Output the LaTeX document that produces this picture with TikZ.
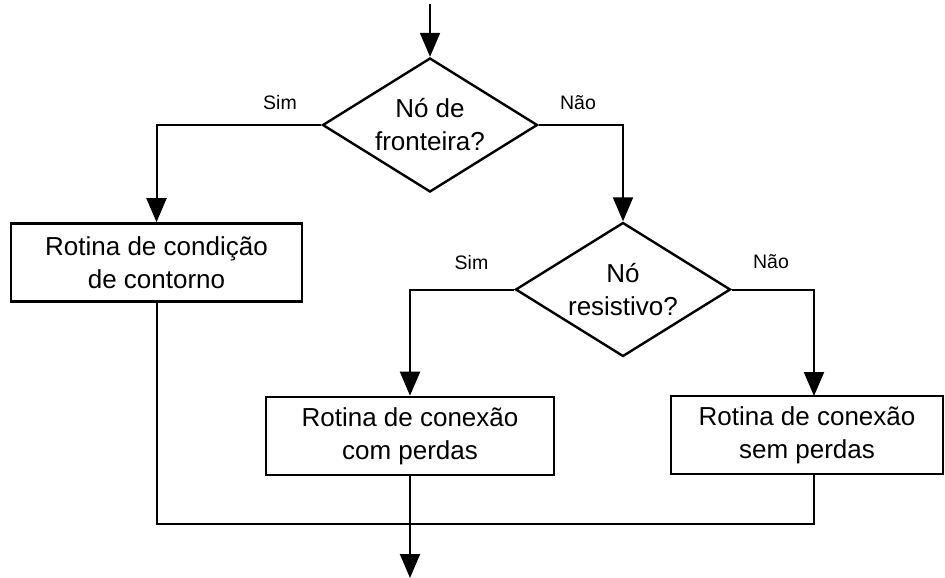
\documentclass[tikz,border=0pt]{standalone}
\usepackage{fontspec}
\setmainfont{Liberation Sans}
\usetikzlibrary{shapes.geometric,arrows.meta,calc}
\begin{document}
\begin{tikzpicture}[x=1pt,y=-1pt,
  conn/.style={line width=2pt},
  arr/.style={conn,-{Triangle[length=24pt,width=20pt]}},
  decision/.style={diamond,draw,line width=2.4pt,aspect=1.6,inner sep=0pt,
    minimum width=215pt,minimum height=134pt,align=center,
    font=\fontsize{26}{33}\selectfont},
  procbox/.style={rectangle,draw,line width=2.6pt,inner sep=0pt,align=center,
    minimum height=78pt,font=\fontsize{26}{33}\selectfont},
  lbl/.style={font=\fontsize{19.5}{22}\selectfont,inner sep=0pt}]
\useasboundingbox (0,0) rectangle (945,578);
\coordinate (start) at (430,4);
\node[decision] (d1) at (430,125) {Nó de\\fronteira?};
\node[procbox,minimum width=291pt] (b1) at (156.5,262.5) {Rotina de condição\\de contorno};
\node[decision] (d2) at (623,289.5) {Nó\\resistivo?};
\node[procbox,minimum width=288pt] (b2) at (410,436) {Rotina de conexão\\com perdas};
\node[procbox,minimum width=272pt] (b3) at (807,435) {Rotina de conexão\\sem perdas};
\coordinate (b3in) at (814,396);
\coordinate (b3out) at (814,474);
\coordinate (end) at (410,578);
\node[lbl] (sim1) at (280,103) {Sim};
\node[lbl] (nao1) at (578,103) {Não};
\node[lbl] (sim2) at (471.5,263) {Sim};
\node[lbl] (nao2) at (771,262) {Não};
\draw[arr] (start) -- (d1.north);
\draw[arr] (d1.west) -| (b1.north);
\draw[arr] (d1.east) -| (d2.north);
\draw[arr] (d2.west) -| (b2.north);
\draw[arr] (d2.east) -| (b3in);
\draw[conn] (b1.south) |- (b3out |- 0,524) -- (b3out);
\draw[arr] (b2.south) -- (end);
\end{tikzpicture}
\end{document}
